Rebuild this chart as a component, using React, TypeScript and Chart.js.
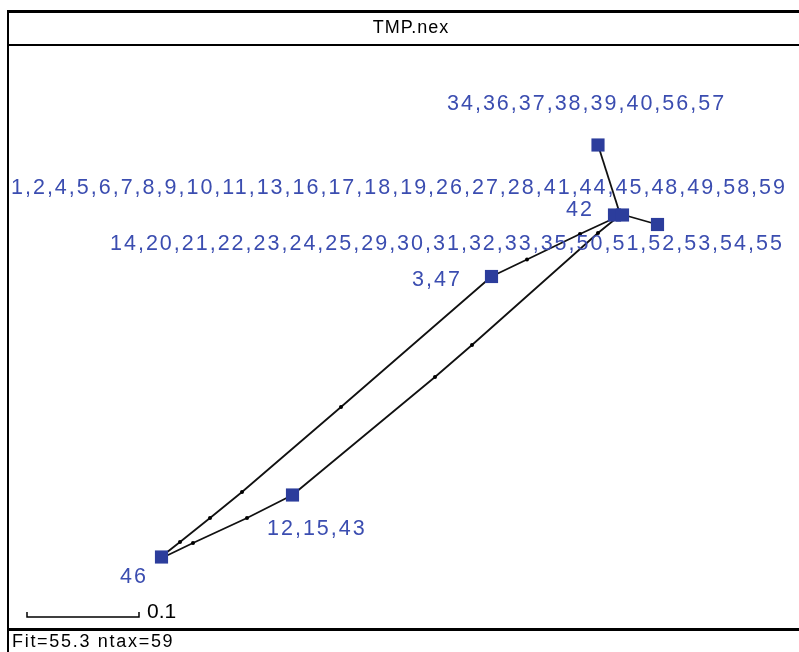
import React, { useEffect, useRef } from "react";
import { Chart, registerables } from "chart.js";

Chart.register(...registerables);

// ---- data (coordinates, in plot units) ----
const TITLE = "TMP.nex";
const FOOTER = "Fit=55.3 ntax=59";
const SCALE_LABEL = "0.1";
const SCALE_BAR_X = [27, 139];
const SCALE_BAR_Y = 617;

// taxon nodes (squares)
const NODE_X = [161.5, 292.5, 491.5, 614.5, 622.5, 598, 657.5];
const NODE_Y = [557, 495, 276.5, 215, 215, 145, 224.5];

// split edges (polylines, inner points are split nodes)
const EDGE_A_X = [166, 180, 210, 242, 341, 491.5];
const EDGE_A_Y = [553, 542, 518, 492, 407, 276.5];
const EDGE_B_X = [166, 193, 247, 292.5];
const EDGE_B_Y = [556, 543, 518, 495];
const EDGE_C_X = [292.5, 435, 472, 598, 619];
const EDGE_C_Y = [495, 377, 345, 233, 216];
const EDGE_D_X = [491.5, 527, 580, 619];
const EDGE_D_Y = [276.5, 259.5, 234, 216];
const EDGE_E_X = [598, 620];
const EDGE_E_Y = [145, 214];
const EDGE_F_X = [624, 657.5];
const EDGE_F_Y = [215, 224.5];

// labels
const LABEL_TEXT = [
  "34,36,37,38,39,40,56,57",
  "1,2,4,5,6,7,8,9,10,11,13,16,17,18,19,26,27,28,41,44,45,48,49,58,59",
  "42",
  "14,20,21,22,23,24,25,29,30,31,32,33,35,50,51,52,53,54,55",
  "3,47",
  "12,15,43",
  "46",
];
const LABEL_X = [447, 11, 566, 110, 412, 267, 120];
const LABEL_Y = [104, 188, 210, 244, 280, 529, 577];

const NODE_COLOR = "#2c3d9c";
const TEXT_COLOR = "#3b4db0";

function edge(xs: number[], ys: number[]) {
  const n = xs.length;
  return {
    type: "line" as const,
    data: xs.map((x, i) => ({ x, y: ys[i] })),
    showLine: true,
    borderColor: "#111",
    borderWidth: 1.8,
    backgroundColor: "#000",
    pointBackgroundColor: "#000",
    pointBorderWidth: 0,
    pointRadius: (c: any) => (c.dataIndex === 0 || c.dataIndex === n - 1 ? 0 : 2),
    tension: 0,
    order: 1,
  };
}

const framePlugin = {
  id: "frame",
  beforeDraw(chart: any) {
    const ctx = chart.ctx as CanvasRenderingContext2D;
    const W = chart.width;
    const H = chart.height;
    ctx.save();
    ctx.fillStyle = "#ffffff";
    ctx.fillRect(0, 0, W, H);
    ctx.fillStyle = "#000";
    ctx.fillRect(7, 10, W, 3);
    ctx.fillRect(7, 10, 2, H);
    ctx.fillRect(7, 44, W, 2);
    ctx.fillRect(7, 628, W, 3);
    ctx.textBaseline = "middle";
    ctx.font = "18px 'Liberation Sans'";
    (ctx as any).letterSpacing = "1px";
    ctx.textAlign = "center";
    ctx.fillText(TITLE, 411, 28);
    ctx.textAlign = "left";
    (ctx as any).letterSpacing = "1.7px";
    ctx.fillText(FOOTER, 12, 642);
    ctx.restore();
  },
  afterDatasetsDraw(chart: any) {
    const ctx = chart.ctx as CanvasRenderingContext2D;
    const xs = chart.scales.x;
    const ys = chart.scales.y;
    ctx.save();
    // scale bar
    const x0 = xs.getPixelForValue(SCALE_BAR_X[0]);
    const x1 = xs.getPixelForValue(SCALE_BAR_X[1]);
    const yb = ys.getPixelForValue(SCALE_BAR_Y);
    ctx.strokeStyle = "#000";
    ctx.lineWidth = 1.5;
    ctx.beginPath();
    ctx.moveTo(x0, yb - 5);
    ctx.lineTo(x0, yb);
    ctx.lineTo(x1, yb);
    ctx.lineTo(x1, yb - 5);
    ctx.stroke();
    ctx.fillStyle = "#000";
    ctx.font = "21px 'Liberation Sans'";
    ctx.textBaseline = "alphabetic";
    ctx.textAlign = "left";
    ctx.fillText(SCALE_LABEL, x1 + 8, yb + 1);
    // taxon labels
    ctx.fillStyle = TEXT_COLOR;
    ctx.font = "21.5px 'Liberation Sans'";
    (ctx as any).letterSpacing = "2px";
    ctx.textBaseline = "middle";
    LABEL_TEXT.forEach((t, i) => {
      ctx.fillText(t, xs.getPixelForValue(LABEL_X[i]), ys.getPixelForValue(LABEL_Y[i]));
    });
    ctx.restore();
  },
};

export default function App() {
  const ref = useRef<HTMLCanvasElement | null>(null);
  useEffect(() => {
    if (!ref.current) return;
    const chart = new Chart(ref.current, {
      type: "scatter",
      data: {
        datasets: [
          {
            type: "scatter",
            data: NODE_X.map((x, i) => ({ x, y: NODE_Y[i] })),
            pointStyle: "rect",
            pointRadius: 9.3,
            pointBackgroundColor: NODE_COLOR,
            pointBorderWidth: 0,
            order: 0,
          } as any,
          edge(EDGE_A_X, EDGE_A_Y),
          edge(EDGE_B_X, EDGE_B_Y),
          edge(EDGE_C_X, EDGE_C_Y),
          edge(EDGE_D_X, EDGE_D_Y),
          edge(EDGE_E_X, EDGE_E_Y),
          edge(EDGE_F_X, EDGE_F_Y),
        ] as any,
      },
      options: {
        responsive: false,
        animation: false,
        events: [],
        layout: { padding: 0, autoPadding: false },
        plugins: { legend: { display: false }, tooltip: { enabled: false } },
        scales: {
          x: { type: "linear", min: 0, max: 799, display: false },
          y: { type: "linear", min: 0, max: 652, reverse: true, display: false },
        },
      },
      plugins: [framePlugin],
    });
    return () => chart.destroy();
  }, []);
  return (
    <div style={{ position: "fixed", left: 0, top: 0, width: 799, height: 652, background: "#fff" }}>
      <canvas ref={ref} width={799} height={652} style={{ display: "block" }} />
    </div>
  );
}
